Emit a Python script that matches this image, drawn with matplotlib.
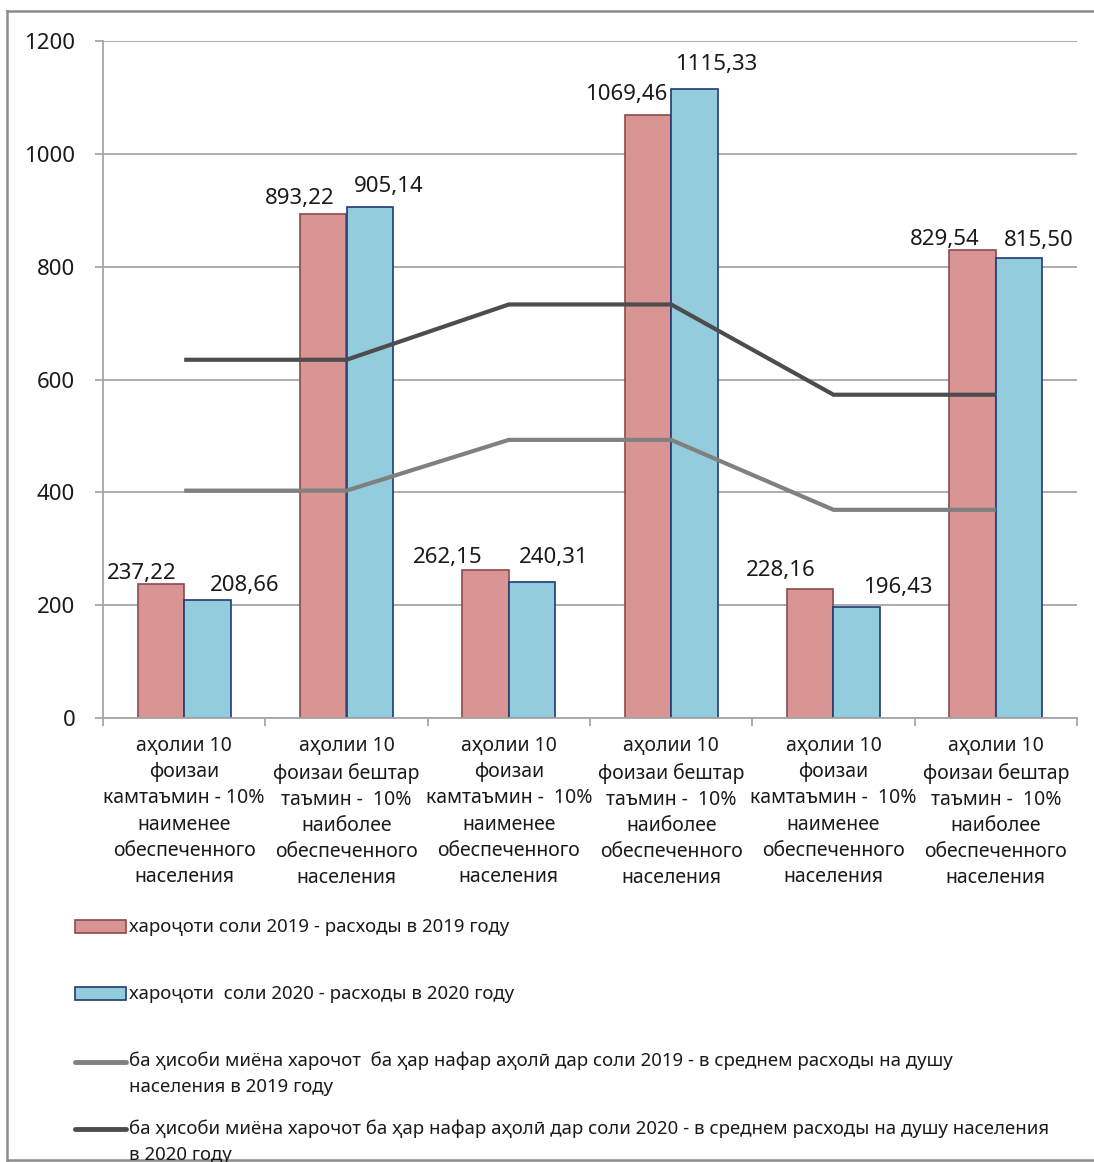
import matplotlib
matplotlib.use("Agg")
import matplotlib.pyplot as plt
from matplotlib.patches import Rectangle
from matplotlib.lines import Line2D
import numpy as np

plt.rcParams['font.family'] = ['Noto Sans', 'DejaVu Sans']

# данные
cat_low = "аҳолии 10\nфоизаи\nкамтаъмин - 10%\nнаименее\nобеспеченного\nнаселения"
cat_low2 = "аҳолии 10\nфоизаи\nкамтаъмин -  10%\nнаименее\nобеспеченного\nнаселения"
cat_high = "аҳолии 10\nфоизаи бештар\nтаъмин -  10%\nнаиболее\nобеспеченного\nнаселения"
categories = [cat_low, cat_high, cat_low2, cat_high, cat_low2, cat_high]

spend_2019 = [237.22, 893.22, 262.15, 1069.46, 228.16, 829.54]
spend_2020 = [208.66, 905.14, 240.31, 1115.33, 196.43, 815.50]
avg_2019 = [403, 403, 493, 493, 369, 369]
avg_2020 = [635, 635, 733, 733, 573, 573]

legend_labels = [
    "хароҷоти соли 2019 - расходы в 2019 году",
    "хароҷоти  соли 2020 - расходы в 2020 году",
    "ба ҳисоби миёна харочот  ба ҳар нафар аҳолӣ дар соли 2019 - в среднем расходы на душу\nнаселения в 2019 году",
    "ба ҳисоби миёна харочот ба ҳар нафар аҳолӣ дар соли 2020 - в среднем расходы на душу населения\nв 2020 году",
]

# смещения подписей (пиксели)
off_2019 = [(-19, 11), (-24, 16), (-38, 13), (-22, 20), (-30, 19), (-28, 11)]
off_2020 = [(37, 15), (19, 21), (22, 25), (22, 24), (41, 20), (20, 17)]

pink = "#D99594"
pink_edge = "#8C4A48"
blue = "#93CDDD"
blue_edge = "#1F3A78"
light_line = "#808080"
dark_line = "#4D4D4D"
grid_c = "#A6A6A6"

W, H = 1094, 1162
fig = plt.figure(figsize=(W / 100, H / 100), dpi=100)
ax = fig.add_axes([103 / W, 1 - 718 / H, (1077 - 103) / W, (718 - 41) / H])

x = np.arange(len(categories))
bw = 0.286
ax.bar(x - bw / 2, spend_2019, bw, color=pink, edgecolor=pink_edge, linewidth=1.2, zorder=2)
ax.bar(x + bw / 2, spend_2020, bw, color=blue, edgecolor=blue_edge, linewidth=1.2, zorder=2)
ax.plot(x, avg_2019, color=light_line, lw=3, solid_capstyle='butt', solid_joinstyle='miter', zorder=3)
ax.plot(x, avg_2020, color=dark_line, lw=3, solid_capstyle='butt', solid_joinstyle='miter', zorder=3)

def fmt(v):
    return "{:.2f}".format(v).replace('.', ',')

for i in range(len(x)):
    ax.annotate(fmt(spend_2019[i]), (x[i] - bw / 2, spend_2019[i]), xytext=off_2019[i],
                textcoords='offset pixels', ha='center', va='center', fontsize=16, color='#1a1a1a', zorder=4)
    ax.annotate(fmt(spend_2020[i]), (x[i] + bw / 2, spend_2020[i]), xytext=off_2020[i],
                textcoords='offset pixels', ha='center', va='center', fontsize=16, color='#1a1a1a', zorder=4)

ax.set_xlim(-0.5, len(x) - 0.5)
ax.set_ylim(0, 1200)
ax.set_yticks(np.arange(0, 1201, 200))
ax.yaxis.grid(True, color=grid_c, lw=1.3, zorder=0)
ax.set_axisbelow(True)
ax.tick_params(axis='y', labelsize=16, length=6, color=grid_c, width=1.3, pad=14, labelcolor='#1a1a1a')

ax.set_xticks(x)
ax.set_xticklabels(categories, fontsize=14, linespacing=1.41, color='#1a1a1a')
ax.set_xticks(np.arange(-0.5, len(x)), minor=True)
ax.tick_params(axis='x', which='major', length=0, pad=13)
ax.tick_params(axis='x', which='minor', length=6, color=grid_c, width=1.3)

for s in ['top', 'right']:
    ax.spines[s].set_visible(False)
for s in ['left', 'bottom']:
    ax.spines[s].set_color(grid_c)
    ax.spines[s].set_linewidth(1.3)

# легенда вручную
def fy(py):
    return 1 - py / H

leg_y = [927, 994, 1061, 1129]
fig.add_artist(Rectangle((75 / W, fy(933)), 51 / W, 13 / H, facecolor=pink, edgecolor=pink_edge, lw=1.2))
fig.add_artist(Rectangle((75 / W, fy(1000)), 51 / W, 13 / H, facecolor=blue, edgecolor=blue_edge, lw=1.2))
fig.add_artist(Line2D([75 / W, 126 / W], [fy(1062), fy(1062)], color=light_line, lw=3.5, solid_capstyle='round'))
fig.add_artist(Line2D([75 / W, 126 / W], [fy(1129), fy(1129)], color=dark_line, lw=3.5, solid_capstyle='round'))
for yy, lab in zip(leg_y, legend_labels):
    fig.text(129 / W, fy(yy - 9), lab, ha='left', va='top', fontsize=13.4, linespacing=1.55, color='#1a1a1a')

# рамка
frame_c = "#8C8C8C"
fig.add_artist(Line2D([7 / W, 7 / W], [fy(11), fy(1160)], color=frame_c, lw=1.8))
fig.add_artist(Line2D([7 / W, 1.0], [fy(11), fy(11)], color=frame_c, lw=1.8))
fig.add_artist(Line2D([7 / W, 1.0], [fy(1160), fy(1160)], color=frame_c, lw=1.8))

fig.savefig("out.png", dpi=100)
